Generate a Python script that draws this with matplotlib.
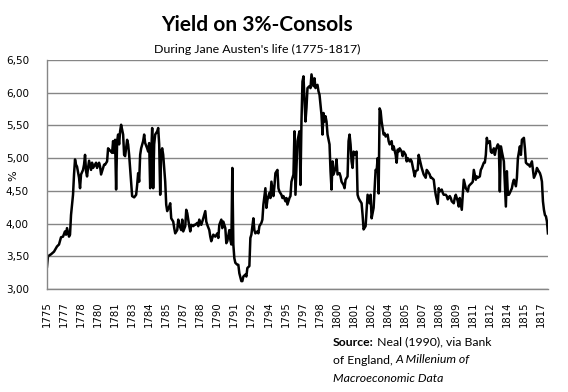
import matplotlib
matplotlib.use("Agg")
import matplotlib.pyplot as plt

# observation number (roughly monthly, as on the Excel category axis) and yield in %
obs = [0, 1, 4, 7, 10, 12, 14, 16, 18, 19, 20, 22, 23, 24, 26, 27, 28, 29, 30, 32,
       33, 34, 36, 37, 38, 39, 40, 41, 42, 44, 45, 46, 48, 49, 50, 52, 53, 54, 56, 57,
       58, 60, 61, 62, 64, 65, 66, 67, 68, 69, 70, 71, 72, 73, 74, 76, 77, 78, 80, 81,
       82, 84, 85, 87, 89, 90, 91, 92, 93, 94, 96, 97, 98, 100, 101, 102, 103, 104, 105, 106,
       107, 108, 110, 111, 112, 113, 114, 115, 116, 118, 119, 120, 122, 123, 124, 126, 127, 128, 130, 131,
       132, 134, 135, 136, 138, 139, 140, 142, 143, 144, 146, 147, 148, 150, 151, 152, 154, 155, 156, 158,
       159, 160, 162, 163, 164, 166, 168, 170, 171, 172, 174, 175, 176, 178, 179, 180, 182, 183, 184, 185,
       186, 187, 188, 190, 191, 192, 194, 195, 196, 198, 199, 200, 202, 203, 204, 206, 207, 208, 210, 211,
       212, 214, 215, 216, 218, 219, 220, 222, 223, 224, 226, 227, 228, 230, 231, 232, 234, 235, 236, 238,
       239, 240, 242, 243, 244, 246, 247, 248, 250, 252, 253, 254, 255, 256, 258, 259, 260, 262, 263, 264,
       266, 267, 268, 270, 271, 272, 274, 275, 276, 277, 278, 279, 280, 282, 283, 284, 285, 286, 288, 289,
       290, 292, 293, 294, 296, 297, 298, 300, 301, 302, 303, 304, 305, 306, 308, 309, 310, 311, 312, 314,
       315, 316, 318, 319, 320, 322, 323, 324, 326, 327, 328, 329, 330, 331, 332, 333, 334, 336, 337, 338,
       340, 341, 342, 344, 345, 346, 348, 349, 350, 351, 352, 354, 355, 356, 358, 359, 360, 362, 363, 364,
       366, 367, 368, 370, 371, 372, 374, 375, 376, 378, 379, 380, 382, 383, 384, 386, 387, 388, 390, 391,
       392, 394, 395, 396, 398, 399, 400, 402, 403, 404, 406, 407, 408, 410, 411, 412, 414, 415, 416, 418,
       420, 421, 422, 424, 425, 426, 428, 429, 430, 432, 433, 434, 436, 437, 438, 439, 440, 442, 443, 444,
       446, 447, 448, 450, 451, 452, 453, 454, 456, 457, 458, 459, 460, 461, 462, 464, 465, 466, 468, 469,
       470, 472, 473, 474, 476, 477, 478, 480, 481, 482, 484, 485, 486, 488, 489, 490, 492, 493, 494, 495,
       496, 497, 498, 499, 500]
yield_pct = [3.34, 3.50, 3.53, 3.57, 3.65, 3.68, 3.79, 3.80, 3.88, 3.83, 3.93, 3.80, 3.83, 4.13, 4.44, 4.75, 4.98, 4.90, 4.87, 4.70,
             4.54, 4.75, 4.82, 4.90, 5.05, 4.80, 4.72, 4.85, 4.96, 4.82, 4.93, 4.85, 4.90, 4.93, 4.85, 4.93, 4.87, 4.75, 4.85, 4.90,
             4.90, 4.95, 5.15, 5.13, 5.10, 5.08, 5.26, 5.08, 5.28, 4.52, 5.26, 5.36, 5.21, 5.41, 5.51, 5.36, 5.05, 5.03, 5.28, 5.21,
             5.05, 4.64, 4.42, 4.40, 4.44, 4.59, 4.77, 4.64, 5.05, 5.15, 5.26, 5.36, 5.23, 5.15, 5.10, 5.23, 4.54, 5.05, 5.46, 4.54,
             5.21, 5.36, 5.41, 5.46, 5.21, 4.44, 5.10, 5.15, 5.05, 4.64, 4.29, 4.19, 4.26, 4.31, 4.08, 4.03, 3.93, 3.85, 3.90, 4.06,
             3.98, 3.90, 4.06, 3.88, 3.96, 4.21, 4.16, 3.96, 3.88, 3.98, 3.96, 3.98, 3.98, 4.01, 3.96, 4.06, 3.98, 4.03, 4.08, 4.19,
             4.03, 3.98, 3.90, 3.80, 3.73, 3.83, 3.80, 3.85, 3.78, 3.98, 4.06, 3.93, 4.03, 3.93, 3.70, 3.73, 3.90, 3.75, 3.68, 4.85,
             3.68, 3.47, 3.40, 3.37, 3.37, 3.24, 3.12, 3.12, 3.19, 3.22, 3.19, 3.32, 3.35, 3.78, 3.83, 4.08, 3.90, 3.85, 3.88, 3.85,
             3.96, 4.01, 4.06, 4.29, 4.54, 4.24, 4.36, 4.47, 4.39, 4.64, 4.42, 4.57, 4.77, 4.82, 4.54, 4.49, 4.44, 4.39, 4.42, 4.34,
             4.39, 4.29, 4.39, 4.42, 4.64, 4.75, 5.41, 4.44, 5.26, 5.41, 4.59, 5.56, 6.17, 6.25, 5.56, 5.77, 6.07, 6.10, 6.07, 6.28,
             6.10, 6.22, 6.07, 6.12, 6.02, 5.97, 5.66, 5.36, 5.69, 5.56, 5.64, 5.56, 5.36, 5.21, 4.80, 4.52, 4.95, 4.75, 4.85, 4.98,
             4.75, 4.77, 4.72, 4.64, 4.59, 4.54, 4.67, 4.72, 5.26, 5.36, 5.21, 4.95, 4.85, 5.10, 5.05, 5.10, 4.44, 4.39, 4.36, 4.31,
             4.13, 3.91, 3.96, 4.19, 4.44, 4.31, 4.44, 4.08, 4.24, 4.54, 4.82, 4.80, 5.00, 4.46, 5.76, 5.72, 5.56, 5.36, 5.38, 5.33,
             5.36, 5.26, 5.21, 5.26, 5.13, 5.18, 5.05, 4.93, 5.13, 5.10, 5.15, 5.10, 5.03, 5.10, 5.05, 4.95, 5.00, 4.95, 4.98, 4.95,
             4.80, 4.72, 4.80, 4.82, 5.05, 4.98, 4.85, 4.80, 4.75, 4.70, 4.82, 4.80, 4.75, 4.70, 4.70, 4.67, 4.54, 4.44, 4.30, 4.54,
             4.49, 4.52, 4.47, 4.44, 4.44, 4.42, 4.37, 4.42, 4.39, 4.34, 4.31, 4.39, 4.44, 4.34, 4.26, 4.39, 4.21, 4.44, 4.67, 4.54,
             4.49, 4.57, 4.59, 4.62, 4.64, 4.82, 4.67, 4.72, 4.70, 4.72, 4.82, 4.85, 4.93, 4.93, 5.05, 5.31, 5.23, 5.26, 5.10, 5.08,
             5.15, 5.05, 5.13, 5.21, 5.18, 4.49, 5.18, 5.10, 4.95, 4.59, 4.26, 4.80, 4.44, 4.44, 4.47, 4.54, 4.62, 4.67, 4.57, 4.70,
             5.00, 5.18, 5.05, 5.28, 5.31, 5.15, 4.93, 4.90, 4.90, 4.87, 4.95, 4.82, 4.70, 4.77, 4.85, 4.82, 4.77, 4.72, 4.64, 4.34,
             4.21, 4.13, 4.11, 4.03, 3.85]

year_labels = ["1775", "1777", "1778", "1780", "1781", "1783", "1784", "1785", "1787", "1788",
               "1790", "1791", "1792", "1794", "1795", "1797", "1798", "1800", "1801", "1802",
               "1804", "1805", "1807", "1808", "1809", "1811", "1812", "1814", "1815", "1817"]
label_step = 17  # one label every 17 observations
y_ticks = [3.0, 3.5, 4.0, 4.5, 5.0, 5.5, 6.0, 6.5]

text_font = ["Lato", "DejaVu Sans"]
grid_col = "#868686"

fig = plt.figure(figsize=(5.68, 3.92), dpi=100)
ax = fig.add_axes([0.0827, 0.2628, 0.882, 0.5842])

ax.plot(obs, yield_pct, color="black", lw=1.8, solid_joinstyle="round")

ax.set_xlim(0, 500)
ax.set_ylim(3.0, 6.5)
ax.set_xticks([i * label_step for i in range(len(year_labels))])
ax.set_xticklabels(year_labels, rotation=90, fontsize=7.3, family="DejaVu Sans")
ax.set_yticks(y_ticks)
ax.set_yticklabels([f"{v:.2f}".replace(".", ",") for v in y_ticks], fontsize=7.5, family="DejaVu Sans")
ax.tick_params(length=0, pad=9)
ax.tick_params(axis="y", pad=13)
ax.grid(axis="y", color=grid_col, lw=1)
ax.set_axisbelow(True)
for side in ["top", "right"]:
    ax.spines[side].set_visible(False)
for side in ["left", "bottom"]:
    ax.spines[side].set_color(grid_col)
    ax.spines[side].set_linewidth(1)

# y axis title sits between the tick labels and the figure edge
fig.text(13 / 568, 1 - 176 / 392, "%", rotation=90, ha="center", va="center",
         fontsize=8, family="DejaVu Sans")

fig.text(0.452, 0.935, "Yield on 3%-Consols", ha="center", va="center",
         fontsize=15, fontweight="bold", family=text_font)
fig.text(0.452, 0.875, "During Jane Austen's life (1775-1817)", ha="center", va="center",
         fontsize=8.9, family=text_font)

# source note, drawn run by run so bold / italic parts sit side by side
renderer = fig.canvas.get_renderer()
source_lines = [
    [("Source:", "bold", "normal"), (" Neal (1990), via Bank", "normal", "normal")],
    [("of England, ", "normal", "normal"), ("A Millenium of", "normal", "italic")],
    [("Macroeconomic Data", "normal", "italic")],
]
line_y = [342, 360, 378]
for runs, py in zip(source_lines, line_y):
    px = 333
    for txt, weight, style in runs:
        t = fig.text(px / 568, 1 - py / 392, txt, ha="left", va="center", fontsize=8.8,
                     fontweight=weight, fontstyle=style, family=text_font)
        px += t.get_window_extent(renderer).width

fig.savefig("out.png", dpi=100)
